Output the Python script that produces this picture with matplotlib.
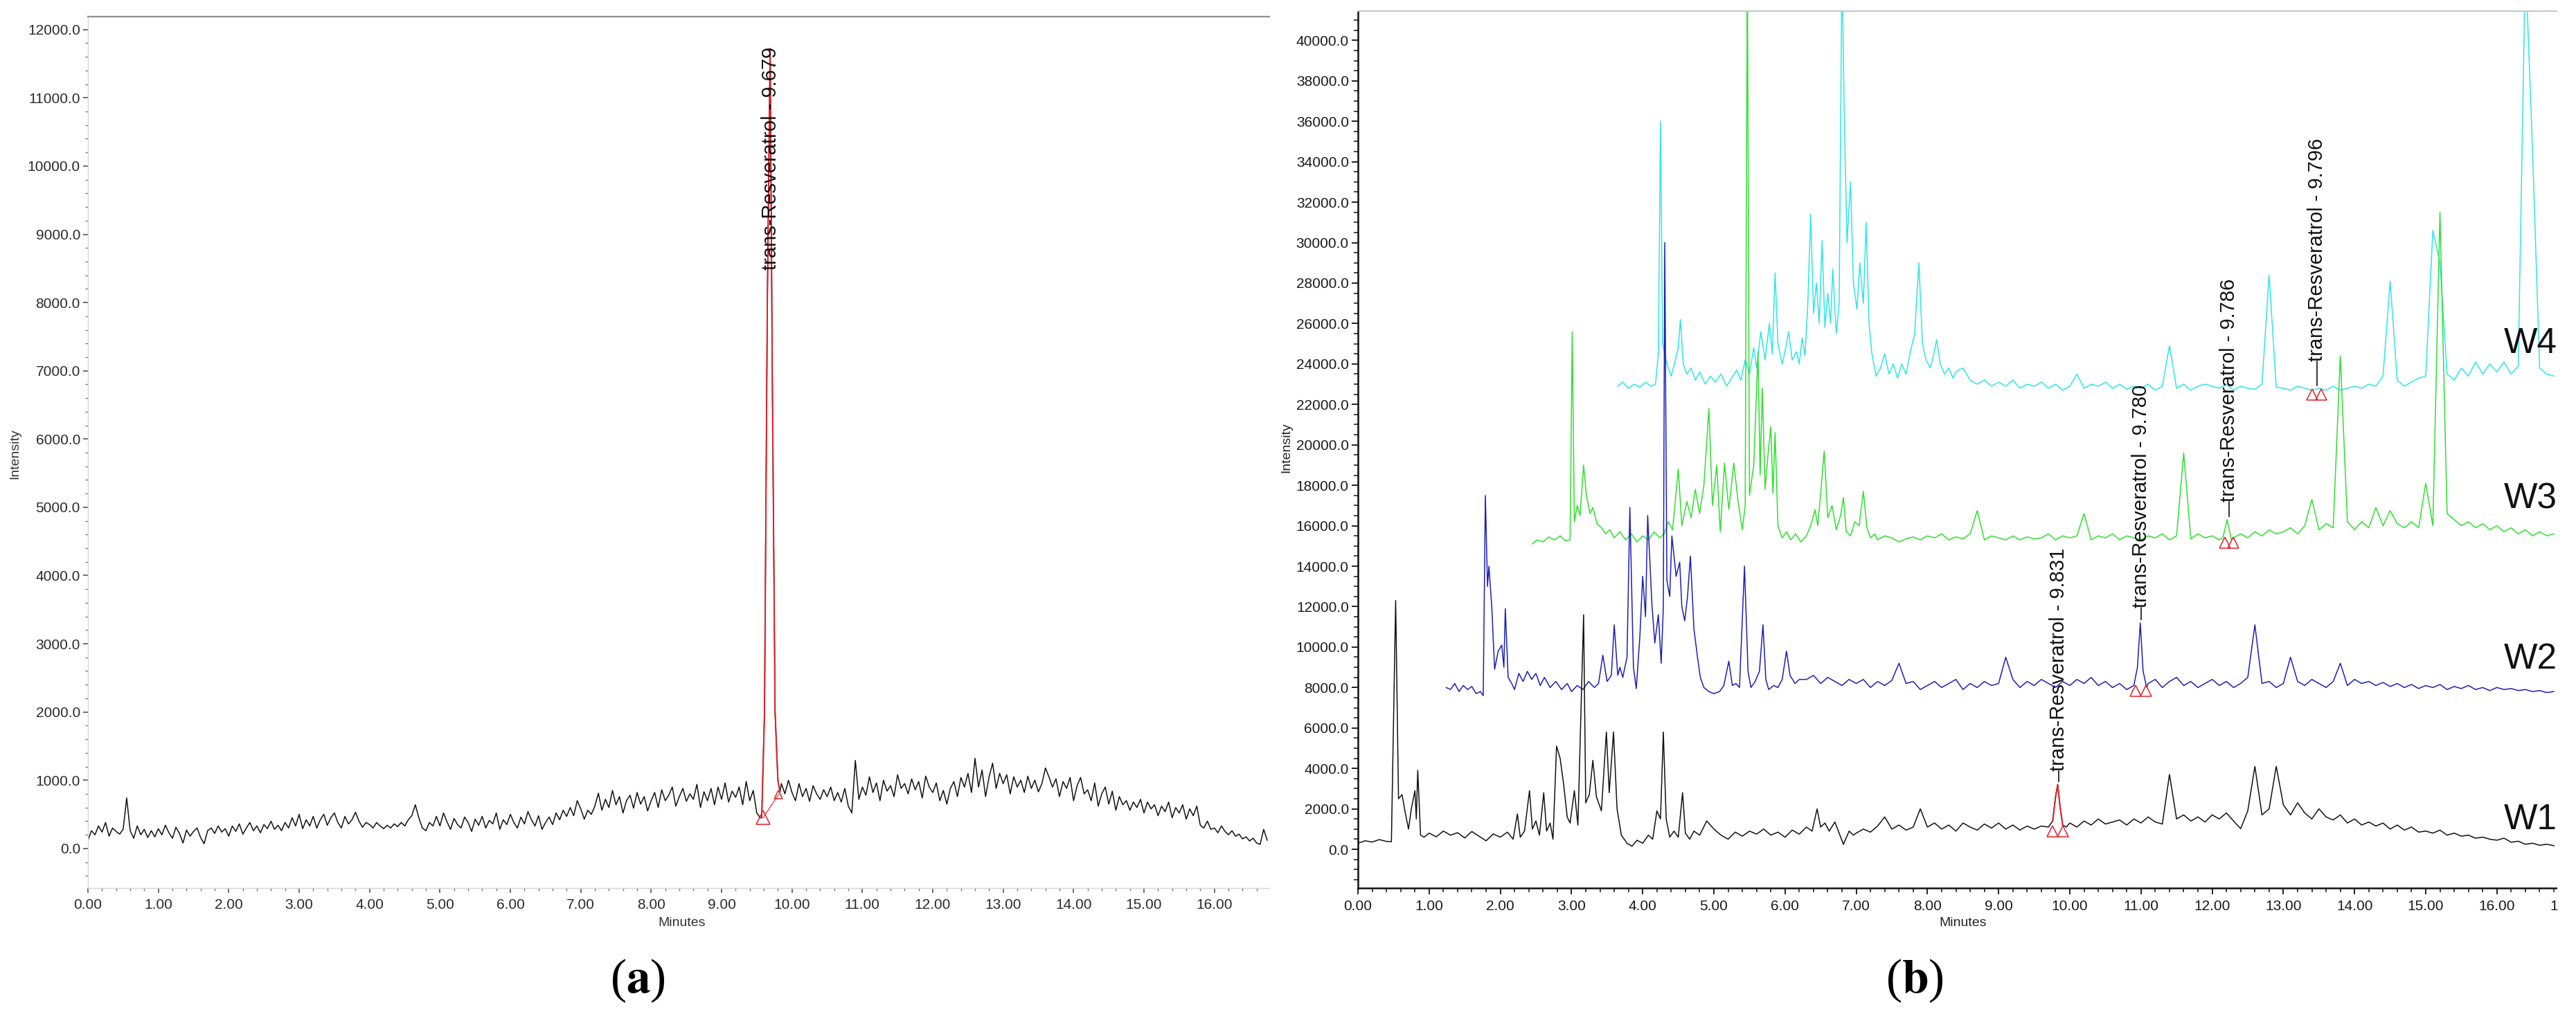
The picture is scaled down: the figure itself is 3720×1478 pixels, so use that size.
import numpy as np
import matplotlib
matplotlib.use("Agg")
import matplotlib.pyplot as plt
from matplotlib.ticker import MultipleLocator, FormatStrFormatter
from matplotlib.patches import Rectangle

plt.rcParams['font.family'] = ['Liberation Sans', 'DejaVu Sans']
plt.rcParams['mathtext.fontset'] = 'stix'

# ---------------- panel (a): single chromatogram, sampled every 0.05 min ----------------
a_dt = 0.05
a_base = [
    120, 260, 200, 330, 240, 380, 180, 300, 250, 210, 280, 740, 260, 150, 330, 200, 280, 160, 260, 170,
    290, 200, 340, 230, 150, 310, 220, 80, 270, 180, 250, 300, 160, 70, 260, 300, 220, 330, 240, 290,
    180, 330, 250, 360, 210, 300, 380, 260, 330, 230, 350, 290, 400, 280, 340, 260, 380, 300, 450, 330,
    500, 290, 420, 330, 470, 300, 420, 500, 340, 450, 520, 380, 300, 470, 360, 420, 530, 400, 310, 380,
    350, 300, 380, 330, 290, 340, 300, 360, 320, 380, 330, 420, 480, 640, 450, 300, 260, 380, 330, 470,
    330, 520, 390, 280, 440, 350, 300, 460, 380, 250, 430, 340, 470, 300, 410, 360, 520, 280, 420, 350,
    500, 380, 300, 460, 360, 540, 420, 330, 480, 280, 380, 460, 350, 520, 420, 560, 470, 600, 480, 700,
    580, 430, 560, 500, 620, 810, 560, 720, 600, 850, 640, 760, 520, 700, 780, 590, 820, 650, 760, 550,
    700, 820, 600, 860, 700, 780, 900, 620, 760, 880, 690, 800, 720, 940, 600, 830, 700, 880, 640, 900,
    720, 960, 680, 840, 750, 900, 640, 980, 700, 850, 520, 450, 500, 600, 700, 800, 850, 950, 800, 1000,
    820, 700, 950, 760, 880, 690, 920, 800, 720, 860, 760, 900, 700, 820, 680, 880, 620, 520, 1290, 720,
    900, 780, 1050, 820, 960, 700, 1000, 840, 920, 760, 1080, 880, 950, 800, 1020, 860, 980, 740, 1060, 900,
    820, 960, 700, 850, 650, 880, 980, 760, 1040, 900, 1100, 820, 1320, 900, 1150, 760, 1050, 1250, 880, 1100,
    950, 1080, 800, 1050, 900, 1000, 820, 1060, 880, 1000, 830, 950, 1180, 1050, 900, 1020, 760, 980, 880, 1040,
    700, 920, 1040, 800, 860, 700, 960, 620, 800, 900, 650, 840, 560, 760, 640, 700, 560, 680, 600, 720,
    520, 680, 580, 640, 480, 620, 540, 680, 450, 600, 520, 640, 430, 580, 480, 620, 340, 300, 400, 280,
    300, 230, 330, 250, 200, 260, 180, 210, 140, 170, 110, 150, 80, 60, 280, 120,
]
a_peak_t = [9.57, 9.61, 9.65, 9.69, 9.72, 9.76, 9.80, 9.83]
a_peak_y = [450, 2000, 8000, 11720, 7000, 2000, 1000, 830]
a_tri_t = [9.59, 9.81]
a_tri_y = [450, 790]
a_label = "trans-Resveratrol - 9.679"

# ---------------- panel (b): four overlaid chromatograms W1..W4 ----------------
# W1 (black)
w1_seg = [(0.0, [300, 420, 360, 480, 390]),
          (1.0, [800, 620, 900, 700, 820, 560, 880, 650, 420, 760, 600, 850]),
          (4.8, [700, 1400, 1000, 700, 500, 850, 650, 900, 750, 1000, 700, 850, 600, 950, 750, 1100]),
          (7.0, [800, 1000, 850, 1150, 1600, 1000, 1200, 950, 1100, 2000,
                 1100, 1300, 1000, 1200, 900, 1300, 1100, 950, 1250, 1050,
                 1300, 1000, 1200, 950, 1150, 1000, 1150]),
          (10.0, [1300, 1100, 1400, 1200, 1500, 1250, 1350, 1450, 1200, 1500,
                  1300, 1600, 1350, 1250, 3700, 1500, 1700, 1400, 1600, 1350,
                  1700, 1500, 1800, 1400, 1020, 1900, 4100, 1700, 2000, 4100,
                  2200, 1700, 2300, 1800, 1500, 2000, 1600, 1450, 1700, 1300,
                  1500, 1200, 1350, 1150, 1300, 1000, 1200, 950, 1100, 850,
                  900, 800, 950, 700, 800, 650, 700, 550, 600, 500,
                  450, 550, 350, 400, 250, 300, 200, 250, 180])]
w1_early_t = [0.47, 0.53, 0.57, 0.62, 0.66, 0.71, 0.75, 0.80, 0.82, 0.84, 0.88, 0.93]
w1_early_y = [380, 12300, 2500, 2700, 1900, 1000, 2000, 2900, 1500, 3900, 700, 600]
w1_mid_t = [2.18, 2.24, 2.28, 2.34, 2.41, 2.45, 2.50, 2.55, 2.61, 2.65, 2.70, 2.74, 2.79, 2.84,
            2.89, 2.94, 2.98, 3.04, 3.09, 3.17, 3.20, 3.25, 3.30, 3.35, 3.42, 3.49, 3.53, 3.59,
            3.64, 3.70, 3.78, 3.85, 3.92, 4.00, 4.08, 4.14, 4.20, 4.25, 4.29, 4.33, 4.38, 4.44,
            4.50, 4.56, 4.60, 4.66, 4.72]
w1_mid_y = [500, 1750, 600, 900, 2900, 1000, 1400, 700, 2800, 900, 1300, 500, 5100, 4500,
            3200, 1600, 1300, 2900, 1200, 11600, 2300, 2700, 4400, 2600, 1900, 5800, 2800, 5800,
            2000, 700, 300, 150, 450, 300, 700, 500, 1900, 1500, 5800, 1500, 600, 900,
            600, 2800, 800, 500, 900]
w1_late_t = [6.38, 6.45, 6.50, 6.56, 6.62, 6.70, 6.76, 6.82, 6.90, 6.96]
w1_late_y = [900, 2000, 1100, 1300, 900, 1350, 800, 240, 900, 700]
w1_peak_t = [9.70, 9.76, 9.80, 9.83, 9.86, 9.90, 9.95]
w1_peak_y = [1100, 1400, 2600, 3200, 2200, 1200, 1100]

# W2 (blue)
w2_early_t = [1.24, 1.30, 1.36, 1.42, 1.48, 1.54, 1.60, 1.66, 1.72, 1.76, 1.79, 1.82, 1.84, 1.88,
              1.92, 1.97, 2.02, 2.05, 2.07, 2.11, 2.16, 2.20, 2.26, 2.32, 2.38, 2.44, 2.50, 2.56,
              2.62, 2.70, 2.78, 2.86, 2.94, 3.00, 3.08, 3.16, 3.24, 3.32, 3.38, 3.44, 3.50, 3.56,
              3.60, 3.65, 3.68, 3.72, 3.78, 3.82, 3.87, 3.91, 3.96, 4.00, 4.04, 4.07, 4.13, 4.17,
              4.22, 4.26, 4.29, 4.31, 4.34, 4.38, 4.41, 4.47, 4.52, 4.55, 4.59, 4.63, 4.67, 4.72,
              4.77, 4.81, 4.86, 4.93, 5.00, 5.08, 5.14, 5.21, 5.26, 5.31, 5.36, 5.43, 5.48, 5.52,
              5.58, 5.64, 5.69, 5.73, 5.77, 5.84, 5.90, 5.96, 6.02, 6.07, 6.14, 6.20]
w2_early_y = [8000, 7900, 8200, 7800, 8100, 7900, 8050, 7700, 7800, 7600, 17500, 13000, 14000, 12000,
              8900, 9800, 10100, 9000, 11900, 8500, 8200, 7900, 8700, 8300, 8800, 8400, 8700, 8100,
              8500, 8000, 8300, 7900, 8200, 7800, 8100, 7900, 8300, 8000, 8200, 9600, 8300, 8600,
              11100, 8600, 9000, 8500, 9500, 16900, 9000, 7950, 10500, 13500, 11500, 16500, 12100, 10200,
              11600, 9200, 12000, 30000, 13300, 12500, 15500, 13500, 14200, 12000, 11300, 12500, 14500, 10900,
              9500, 8500, 8000, 7800, 7700, 7800, 8100, 9300, 8100, 8200, 8000, 14000, 8800, 8000,
              8300, 8800, 11100, 8400, 7900, 8100, 8000, 8400, 9800, 8600, 8200, 8400]
w2_seg = [(6.3, [8400, 8600, 8200, 8500, 8300, 8100, 8400,
                 8200, 8400, 8000, 8300, 8100, 8350, 9200, 8200, 8300, 7900,
                 8100, 8300, 8000, 8200, 8400, 7900, 8200, 8000, 8300, 8100,
                 8200, 9500, 8400, 8000, 8300, 8100, 8400, 8200, 8000, 8300,
                 8100, 8400, 8200, 8500, 8100, 8300, 8000, 8200, 7900, 8100,
                 8000, 8200, 8400, 8000, 8300, 8500, 8100, 8300, 8000, 8200,
                 8400, 8100, 8300, 8000, 8200, 8500, 11100, 8200, 8300, 8000,
                 8200, 9500, 8300, 8100, 8400, 8200, 8000, 8300, 9200, 8100,
                 8400, 8200, 8300, 8100, 8250, 8050, 8200, 8000, 8150, 7950,
                 8100, 8000, 8150, 7900, 8050, 7950, 8100, 7900, 8000, 7850,
                 8000, 7900, 7950, 7850, 7900, 7800, 7850, 7750, 7800])]
w2_peak_t = [10.90, 10.95, 10.99, 11.03, 11.08]
w2_peak_y = [8100, 9000, 11200, 8800, 8000]

# W3 (green)
w3_early_t = [2.45, 2.52, 2.60, 2.68, 2.76, 2.84, 2.92, 2.98, 3.01, 3.04, 3.08, 3.12, 3.17, 3.21,
              3.26, 3.30, 3.36, 3.42, 3.48, 3.54, 3.60, 3.68, 3.76, 3.84, 3.92, 4.00, 4.08, 4.16,
              4.24, 4.30, 4.36, 4.42, 4.50, 4.55, 4.62, 4.68, 4.74, 4.80, 4.86, 4.93, 4.98, 5.04,
              5.09, 5.15, 5.21, 5.28, 5.34, 5.40, 5.44, 5.47, 5.50, 5.56, 5.62, 5.65, 5.68, 5.72,
              5.76, 5.80, 5.83, 5.86, 5.90, 5.96, 6.02, 6.08, 6.15, 6.22, 6.30, 6.36, 6.42, 6.46,
              6.51, 6.55, 6.60, 6.66, 6.72, 6.78, 6.82, 6.86, 6.92, 6.98, 7.04, 7.10, 7.15, 7.20, 7.26]
w3_early_y = [15100, 15300, 15200, 15450, 15300, 15500, 15250, 15300, 25600, 16200, 17000, 16500, 19000, 17500,
              16600, 16900, 16100, 15900, 15600, 15800, 15400, 15700, 15300, 15600, 15200, 15500, 15300, 15700,
              15400, 15600, 16200, 15800, 18800, 16000, 17200, 16400, 17800, 16600, 18000, 21800, 17000, 19000,
              15700, 19100, 16800, 19100, 17200, 15800, 17000, 44000, 17500, 19000, 24600, 18500, 22800, 17800,
              19500, 20900, 17600, 20600, 16000, 15400, 15700, 15300, 15600, 15200, 15500, 16000, 16800, 16000,
              18000, 19700, 16400, 17000, 15800, 16500, 17400, 15700, 15500, 16200, 16000, 17700, 15900, 15400, 15600]
w3_seg = [(7.3, [15300, 15500, 15400, 15200, 15350, 15450, 15300,
                 15500, 15400, 15600, 15300, 15450, 15350, 15600, 16750, 15300, 15500,
                 15400, 15300, 15500, 15300, 15450, 15350, 15400, 15600, 15300, 15500,
                 15400, 15500, 16600, 15300, 15500, 15400, 15600, 15300, 15500, 15400,
                 15300, 15500, 15400, 15600, 15300, 15500, 19600, 15350, 15600, 15400,
                 15500, 15300, 15400, 15400, 15600, 15400, 15700, 15500, 15800, 15600,
                 15700, 15900, 15600, 16000, 17300, 15800, 16100, 15900, 24400, 16200,
                 15800, 16200, 15900, 16900, 16000, 16750, 16100, 15900, 16200, 15900,
                 18100, 16000, 31500, 16600, 16300, 16000, 16200, 15900, 16100, 15800,
                 16000, 15700, 15900, 15600, 15800, 15500, 15700, 15500, 15600])]
w3_peak_t = [12.15, 12.21, 12.27]
w3_peak_y = [15400, 16300, 15300]

# W4 (cyan)
w4_early_t = [3.65, 3.72, 3.80, 3.88, 3.96, 4.04, 4.12, 4.18, 4.22, 4.25, 4.28, 4.34, 4.40, 4.46,
              4.50, 4.53, 4.57, 4.62, 4.68, 4.74, 4.80, 4.88, 4.95, 5.02, 5.10, 5.18, 5.25, 5.32,
              5.38, 5.44, 5.50, 5.56, 5.60, 5.66, 5.72, 5.78, 5.82, 5.86, 5.90, 5.96, 6.01, 6.05,
              6.10, 6.16, 6.20, 6.24, 6.28, 6.32, 6.36, 6.40, 6.44, 6.48, 6.52, 6.56, 6.60, 6.64,
              6.67, 6.72, 6.76, 6.80, 6.83, 6.87, 6.92, 6.96, 7.01, 7.05, 7.10, 7.14, 7.18, 7.22,
              7.28, 7.34, 7.40, 7.46, 7.52, 7.58, 7.64, 7.70, 7.76, 7.82, 7.88, 7.93, 7.98, 8.04,
              8.09, 8.13, 8.18, 8.24, 8.30, 8.36, 8.40, 8.44]
w4_early_y = [22900, 23100, 22800, 23000, 22850, 23100, 22900, 23000, 24500, 36000, 25000, 24000, 23400, 24200,
              24800, 26200, 24000, 23500, 23800, 23200, 23600, 23000, 23400, 23100, 23500, 22900, 23300, 23700,
              23200, 24200, 23500, 24800, 23800, 25600, 24200, 26000, 24500, 28500, 25000, 24000, 24800, 25600,
              24200, 24600, 24000, 25300, 24400, 27000, 31400, 26500, 28000, 26000, 30100, 25800, 27500, 26000,
              28700, 25500, 27000, 44000, 36600, 30000, 33000, 28000, 26700, 29000, 27000, 31000, 26000, 24500,
              23400, 23800, 24500, 23500, 24000, 23300, 24000, 23500, 24600, 25500, 29000, 25000, 24200, 23800,
              24500, 25200, 24000, 23500, 23800, 23300, 23600, 23700]
w4_seg = [(8.5, [23800, 23200, 23000, 23200, 22900,
                 23100, 22900, 23200, 22800, 23000, 22900, 23100, 22800, 23000, 22700,
                 22900, 23500, 22800, 23000, 22900, 23100, 22800, 23000, 22750, 22900,
                 22800, 23000, 22700, 22900, 24900, 22800, 23000, 22700, 22900, 23000,
                 22900, 22800, 23000, 22700, 22900, 22800, 22750, 23000, 28400, 22850,
                 22800, 22700, 22900, 22800, 22700, 22800, 22700, 22900, 22700, 22800,
                 22900, 22800, 23000, 22900, 23400, 28100, 23200, 22900, 23100, 23300,
                 23400, 30600, 29000, 23500, 23200, 23800, 23400, 24100, 23500, 24000,
                 23600, 24100, 23500, 23900, 44000, 34600, 23800, 23500, 23400])]

# annotations of panel (b)
ann_t = [9.84, 11.00, 12.24, 13.47]
ann_y0 = [3860, 11930, 17170, 24140]
ann_apex = [3350, 11350, 16450, 22950]
ann_rt = ["9.831", "9.780", "9.786", "9.796"]
tri_t = [9.76, 9.90, 10.92, 11.07, 12.18, 12.30, 13.40, 13.53]
tri_y = [890, 890, 7830, 7830, 15180, 15180, 22490, 22490]
w_names = ["W1", "W2", "W3", "W4"]
w_label_y = [1440, 9400, 17330, 25000]

RED = "#e0202a"
C_W = ["#111111", "#1e1eb4", "#2fe02f", "#2ee6e6"]


def regular(t0, values, dt=0.1):
    t = np.round(t0 + dt * np.arange(len(values)), 3)
    return t, np.asarray(values, dtype=float)


def assemble(grids, clusters):
    ts, ys = [], []
    for t, y in grids:
        keep = np.ones(len(t), dtype=bool)
        for ct, cy in clusters:
            keep &= ~((t >= min(ct) - 1e-6) & (t <= max(ct) + 1e-6))
        ts.append(t[keep])
        ys.append(y[keep])
    for ct, cy in clusters:
        ts.append(np.asarray(ct, float))
        ys.append(np.asarray(cy, float))
    t = np.concatenate(ts)
    y = np.concatenate(ys)
    order = np.argsort(t, kind="stable")
    return t[order], y[order]


W = 3720
H = 1478
fig = plt.figure(figsize=(W / 100, H / 100), dpi=100)

# ---------------- panel (a) ----------------
ax_a = fig.add_axes([127 / W, 195 / H, 1706 / W, 1259 / H])
ta, ya = assemble([regular(0.0, a_base, a_dt)], [(a_peak_t, a_peak_y)])
ax_a.plot(ta, ya, color="#111111", lw=1.1)
red = (ta >= 9.57) & (ta <= 9.83)
ax_a.plot(ta[red], ya[red], color=RED, lw=1.4)
ax_a.plot(a_tri_t, a_tri_y, color=RED, lw=0.8)
ax_a.plot(a_tri_t[:1], a_tri_y[:1], "^", ms=14, mfc="none", mec=RED, mew=1.1)
ax_a.plot(a_tri_t[1:], a_tri_y[1:], "^", ms=9, mfc="none", mec=RED, mew=1.1)
ax_a.text(9.70, 8480, a_label, rotation=90, ha="center", va="bottom",
          fontsize=21, color="#111111")

ax_a.set_xlim(0, 16.78)
ax_a.set_ylim(-580, 12190)
ax_a.xaxis.set_major_locator(MultipleLocator(1.0))
ax_a.xaxis.set_minor_locator(MultipleLocator(0.2))
ax_a.yaxis.set_major_locator(MultipleLocator(1000))
ax_a.yaxis.set_minor_locator(MultipleLocator(200))
ax_a.xaxis.set_major_formatter(FormatStrFormatter("%.2f"))
ax_a.yaxis.set_major_formatter(FormatStrFormatter("%.1f"))
ax_a.spines["right"].set_visible(False)
ax_a.spines["top"].set_color("#8e8e8e")
ax_a.spines["top"].set_linewidth(1.6)
for s in ("left", "bottom"):
    ax_a.spines[s].set_color("#d4d4d4")
    ax_a.spines[s].set_linewidth(1.0)
ax_a.tick_params(which="major", direction="out", length=5, width=1.2, color="#555555",
                 labelsize=15, labelcolor="#2a2a2a", pad=3)
ax_a.tick_params(which="minor", direction="out", length=3, width=1.0, color="#777777")
ax_a.tick_params(axis="x", which="major", pad=6)

# ---------------- panel (b) ----------------
ax_b = fig.add_axes([1961 / W, 195 / H, 1747.6 / W, 1267 / H])
traces = [
    assemble([regular(t0, v) for t0, v in w1_seg],
             [(w1_early_t, w1_early_y), (w1_mid_t, w1_mid_y), (w1_late_t, w1_late_y),
              (w1_peak_t, w1_peak_y)]),
    assemble([regular(t0, v) for t0, v in w2_seg], [(w2_early_t, w2_early_y), (w2_peak_t, w2_peak_y)]),
    assemble([regular(t0, v) for t0, v in w3_seg], [(w3_early_t, w3_early_y), (w3_peak_t, w3_peak_y)]),
    assemble([regular(t0, v) for t0, v in w4_seg], [(w4_early_t, w4_early_y)]),
]
for i in (3, 2, 1, 0):
    t, y = traces[i]
    ax_b.plot(t, y, color=C_W[i], lw=1.1)
t1, y1 = traces[0]
red = (t1 >= 9.74) & (t1 <= 9.92)
ax_b.plot(t1[red], y1[red], color=RED, lw=1.4)
ax_b.plot(tri_t, tri_y, "^", ls="none", ms=12, mfc="none", mec=RED, mew=1.1)

for t, y0, ap, rt in zip(ann_t, ann_y0, ann_apex, ann_rt):
    ax_b.plot([t, t], [ap, y0], color="#111111", lw=1.2)
    ax_b.text(t, y0, "trans-Resveratrol - " + rt, rotation=90, ha="center", va="bottom",
              fontsize=21, color="#111111")
for name, y in zip(w_names, w_label_y):
    ax_b.text(16.1, y, name, fontsize=37, ha="left", va="center", color="#111111")

ax_b.set_xlim(0, 17.0)
ax_b.set_ylim(-1915, 41450)
ax_b.xaxis.set_major_locator(MultipleLocator(1.0))
ax_b.xaxis.set_minor_locator(MultipleLocator(0.2))
ax_b.yaxis.set_major_locator(MultipleLocator(2000))
ax_b.yaxis.set_minor_locator(MultipleLocator(500))
ax_b.xaxis.set_major_formatter(FormatStrFormatter("%.2f"))
ax_b.yaxis.set_major_formatter(FormatStrFormatter("%.1f"))
ax_b.spines["right"].set_visible(False)
ax_b.spines["top"].set_color("#c4c4c4")
ax_b.spines["top"].set_linewidth(1.4)
for s in ("left", "bottom"):
    ax_b.spines[s].set_color("#111111")
    ax_b.spines[s].set_linewidth(1.8)
ax_b.tick_params(which="major", direction="out", length=6.5, width=1.3, color="#111111",
                 labelsize=15, labelcolor="#1a1a1a", pad=3)
ax_b.tick_params(which="minor", direction="out", length=4, width=1.1, color="#111111")
ax_b.tick_params(axis="x", which="major", pad=6)

# axis titles and panel letters
fig.text(22 / W, 1 - 656 / H, "Intensity", rotation=90, ha="center", va="center", fontsize=14, color="#333333")
fig.text(1858 / W, 1 - 647 / H, "Intensity", rotation=90, ha="center", va="center", fontsize=14, color="#222222")
fig.text(985 / W, 1 - 1333 / H, "Minutes", ha="center", va="center", fontsize=14, color="#333333")
fig.text(2835 / W, 1 - 1333 / H, "Minutes", ha="center", va="center", fontsize=14, color="#222222")
fig.text(921 / W, 1 - 1417 / H, r"($\mathbf{a}$)", ha="center", va="center", fontsize=50,
         family="Liberation Serif")
fig.text(2765 / W, 1 - 1417 / H, r"($\mathbf{b}$)", ha="center", va="center", fontsize=50,
         family="Liberation Serif")

# the source image is cropped a little before the right edge
fig.add_artist(Rectangle((3693 / W, 0), 1.0, 1.0, transform=fig.transFigure,
                         facecolor="white", edgecolor="none", zorder=20))

fig.savefig("out.png", dpi=100, facecolor="white")
